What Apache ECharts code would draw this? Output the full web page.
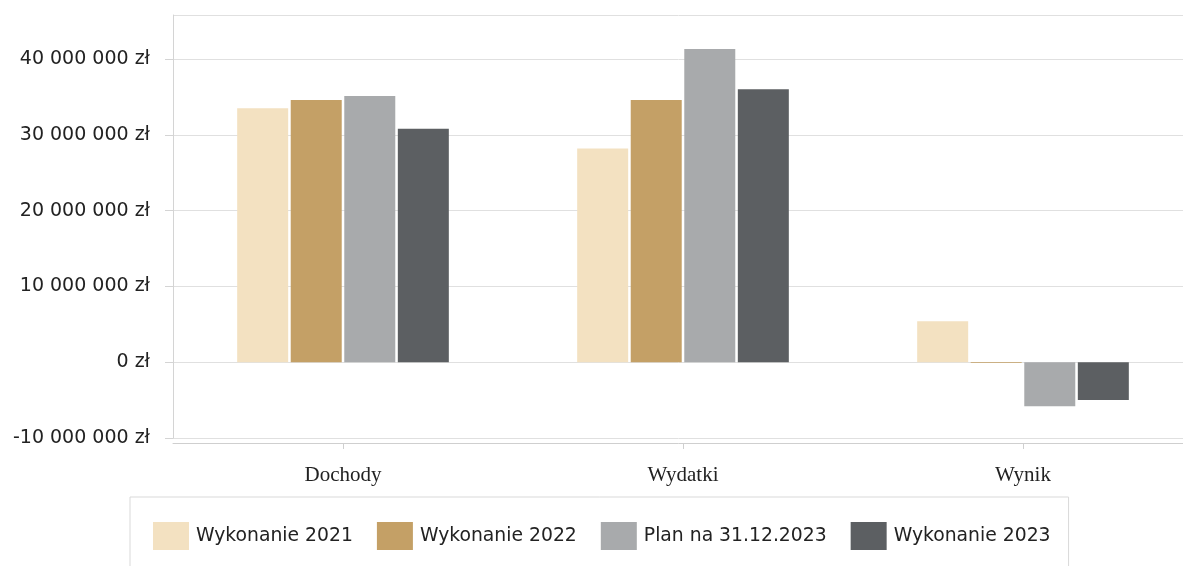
<!DOCTYPE html>
<html>
<head>
<meta charset="utf-8">
<script src="https://cdn.jsdelivr.net/npm/echarts@6/dist/echarts.min.js"></script>
<style>
html,body{margin:0;padding:0;background:#fff;}
#chart{width:1183px;height:566px;}
</style>
</head>
<body>
<div id="chart"></div>
<script>
const categories = ['Dochody', 'Wydatki', 'Wynik'];
const seriesNames = ['Wykonanie 2021', 'Wykonanie 2022', 'Plan na 31.12.2023', 'Wykonanie 2023'];
const wykonanie2021 = [33500000, 28200000, 5400000];
const wykonanie2022 = [34600000, 34600000, -100000];
const plan2023 = [35100000, 41300000, -5800000];
const wykonanie2023 = [30800000, 36000000, -5000000];
const yTickMin = -10000000;
const yTickStep = 10000000;
const yTop = 45800000;

const colors = ['#f3e1c1', '#c4a066', '#a8aaac', '#5c5f62'];
const values = [wykonanie2021, wykonanie2022, plan2023, wykonanie2023];

function fmt(v){
  return String(Math.round(v)).replace(/\B(?=(\d{3})+(?!\d))/g, ' ') + ' zł';
}

const chart = echarts.init(document.getElementById('chart'), null, {renderer:'canvas'});
chart.setOption({
  animation: false,
  color: colors,
  grid: {left: 173, width: 1020, top: 15, height: 423, containLabel: false, outerBoundsMode: 'none'},
  legend: {
    left: 130, top: 497,
    padding: [25, 18, 25, 23],
    borderColor: '#d9d9d9', borderWidth: 1,
    itemWidth: 36, itemHeight: 28, itemGap: 24,
    icon: 'rect',
    data: seriesNames,
    textStyle: {fontFamily: 'DejaVu Sans', fontSize: 18.8, color: '#222', padding: [0,0,0,2]}
  },
  xAxis: {
    type: 'category',
    data: categories,
    offset: 5,
    axisLine: {show: true, onZero: false, lineStyle: {color: '#cfcfcf'}},
    axisTick: {show: true, alignWithLabel: true, length: 6, lineStyle: {color: '#cfcfcf'}},
    axisLabel: {fontFamily: 'Liberation Serif', fontSize: 21, color: '#222', margin: 22}
  },
  yAxis: {
    type: 'value',
    min: yTickMin, max: yTop, interval: yTickStep,
    axisLine: {show: true, lineStyle: {color: '#d4d4d4'}},
    axisTick: {show: true, length: 8, lineStyle: {color: '#d4d4d4'}},
    splitLine: {show: true, lineStyle: {color: '#e0e0e0'}},
    axisLabel: {
      fontFamily: 'DejaVu Sans', fontSize: 19, color: '#222', margin: 23,
      showMaxLabel: false,
      formatter: function(v){ return (Math.abs(v % yTickStep) < 1) ? fmt(v) : ''; }
    }
  },
  series: seriesNames.map(function(name, i){
    return {
      name: name, type: 'bar',
      data: values[i],
      barWidth: 51, barGap: '5%',
      itemStyle: {color: colors[i]}
    };
  })
});
</script>
</body>
</html>
